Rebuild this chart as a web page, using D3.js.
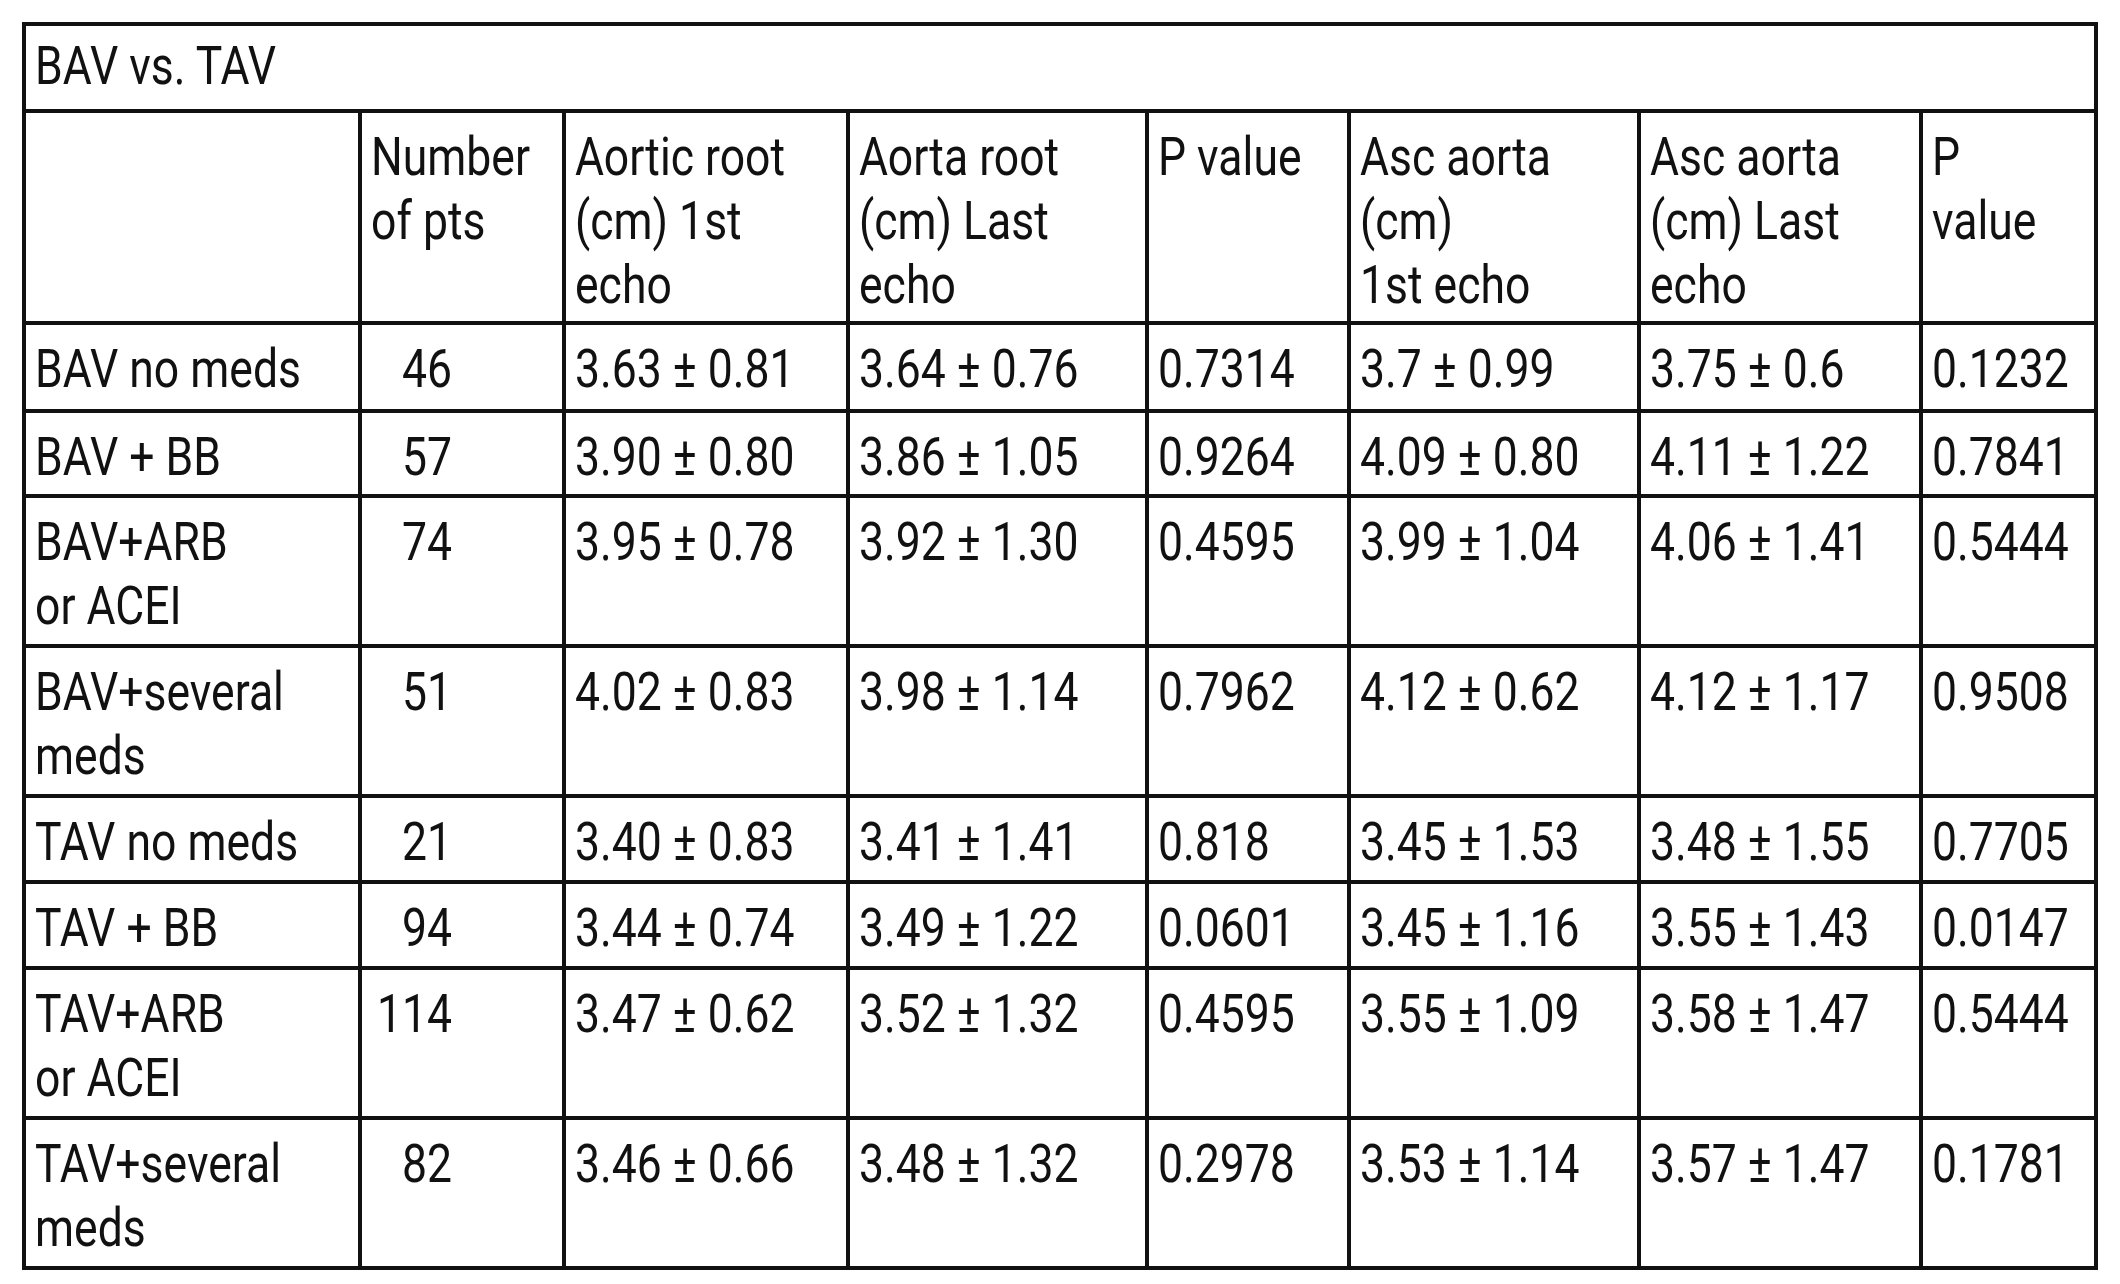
<!DOCTYPE html>
<html><head><meta charset="utf-8">
<script src="https://cdn.jsdelivr.net/npm/d3@7"></script>
<style>body{margin:0;background:#fff}text{font-family:Roboto,"Liberation Sans",sans-serif;font-size:53px;fill:#111}</style>
</head><body><svg width="2120" height="1284"></svg>
<script>
const title = "BAV vs. TAV";
const headers = [[""], ["Number", "of pts"], ["Aortic root", "(cm) 1st", "echo"], ["Aorta root", "(cm) Last", "echo"], ["P value"], ["Asc aorta", "(cm)", "1st echo"], ["Asc aorta", "(cm) Last", "echo"], ["P", "value"]];
const groups = [["BAV no meds"], ["BAV + BB"], ["BAV+ARB", "or ACEI"], ["BAV+several", "meds"], ["TAV no meds"], ["TAV + BB"], ["TAV+ARB", "or ACEI"], ["TAV+several", "meds"]];
const nPts = [46, 57, 74, 51, 21, 94, 114, 82];
const rootFirst = ["3.63 ± 0.81", "3.90 ± 0.80", "3.95 ± 0.78", "4.02 ± 0.83", "3.40 ± 0.83", "3.44 ± 0.74", "3.47 ± 0.62", "3.46 ± 0.66"];
const rootLast = ["3.64 ± 0.76", "3.86 ± 1.05", "3.92 ± 1.30", "3.98 ± 1.14", "3.41 ± 1.41", "3.49 ± 1.22", "3.52 ± 1.32", "3.48 ± 1.32"];
const rootP = ["0.7314", "0.9264", "0.4595", "0.7962", "0.818", "0.0601", "0.4595", "0.2978"];
const ascFirst = ["3.7 ± 0.99", "4.09 ± 0.80", "3.99 ± 1.04", "4.12 ± 0.62", "3.45 ± 1.53", "3.45 ± 1.16", "3.55 ± 1.09", "3.53 ± 1.14"];
const ascLast = ["3.75 ± 0.6", "4.11 ± 1.22", "4.06 ± 1.41", "4.12 ± 1.17", "3.48 ± 1.55", "3.55 ± 1.43", "3.58 ± 1.47", "3.57 ± 1.47"];
const ascP = ["0.1232", "0.7841", "0.5444", "0.9508", "0.7705", "0.0147", "0.5444", "0.1781"];

const colEdges = [24, 360, 564, 848, 1147, 1349, 1639, 1921, 2096];
const rowEdges = [24, 111, 323, 411, 496, 646, 796, 882, 968, 1118, 1268];
const svg = d3.select("svg");
const lh = 64, base = 64, pad = 11, squeeze = 0.84;

function cell(x, y, lines, anchor) {
  const g = svg.append("g").attr("transform", `translate(${x},0) scale(${squeeze},1)`);
  const t = g.append("text").attr("text-anchor", anchor || "start");
  lines.forEach((l, i) => t.append("tspan").attr("x", 0).attr("y", y + base + i * lh).text(l));
}

cell(colEdges[0] + pad, rowEdges[0] - 4, [title]);
headers.forEach((h, j) => cell(colEdges[j] + pad, rowEdges[1], h));
groups.forEach((g, i) => {
  const y = rowEdges[i + 2];
  cell(colEdges[0] + pad, y, g);
  cell(452, y, [String(nPts[i])], "end");
  [rootFirst, rootLast, rootP, ascFirst, ascLast, ascP].forEach((arr, k) =>
    cell(colEdges[k + 2] + pad, y, [arr[i]]));
});

const sw = 4;
svg.append("rect").attr("x", colEdges[0]).attr("y", rowEdges[0])
  .attr("width", colEdges[8] - colEdges[0]).attr("height", rowEdges[10] - rowEdges[0])
  .attr("fill", "none").attr("stroke", "#111").attr("stroke-width", sw);
rowEdges.slice(1, -1).forEach(y => svg.append("line").attr("x1", colEdges[0]).attr("x2", colEdges[8])
  .attr("y1", y).attr("y2", y).attr("stroke", "#111").attr("stroke-width", sw));
colEdges.slice(1, -1).forEach(x => svg.append("line").attr("x1", x).attr("x2", x)
  .attr("y1", rowEdges[1]).attr("y2", rowEdges[10]).attr("stroke", "#111").attr("stroke-width", sw));
</script></body></html>
